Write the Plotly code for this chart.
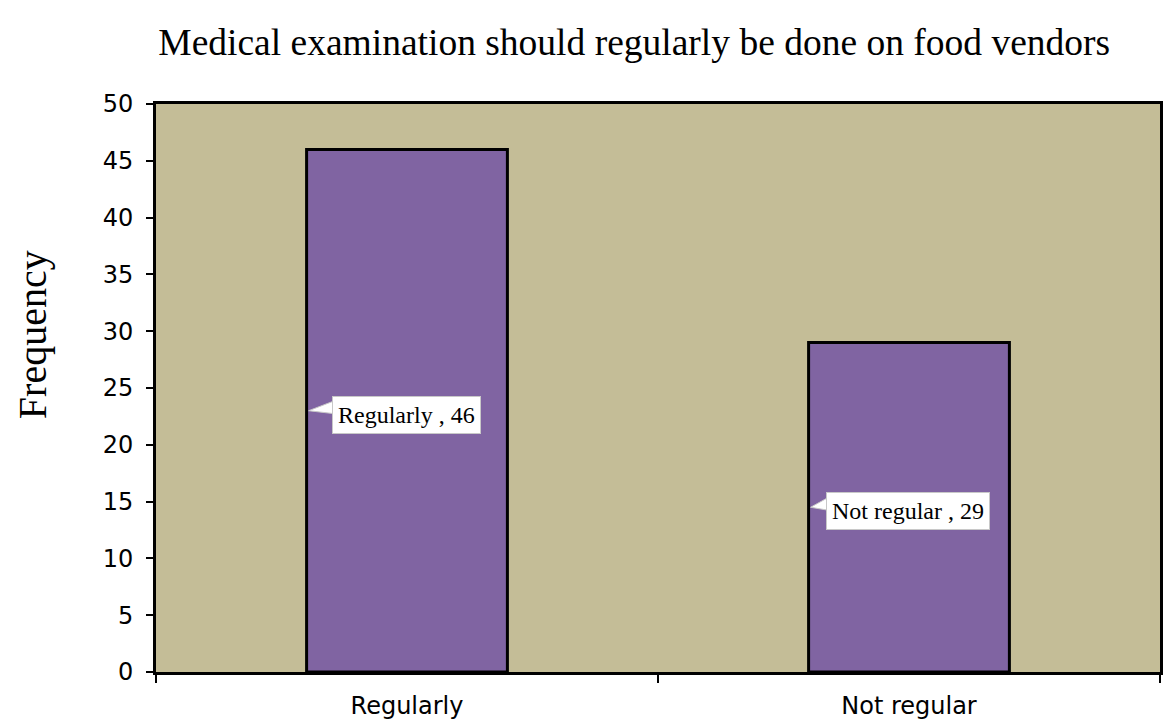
import plotly.graph_objects as go

categories = ["Regularly", "Not regular"]
frequency = [46, 29]
y_ticks = [0, 5, 10, 15, 20, 25, 30, 35, 40, 45, 50]

bar_width = 0.4

fig = go.Figure()

fig.add_trace(go.Bar(
    x=categories,
    y=frequency,
    width=bar_width,
    marker=dict(color="#8064A2", line=dict(color="black", width=3)),
    hoverinfo="x+y",
))

# callout labels pointing at the left edge of each bar, half way up
label_shift = [25, 17]
for i, (cat, val) in enumerate(zip(categories, frequency)):
    x_edge = i - bar_width / 2
    fig.add_annotation(
        x=x_edge, y=val / 2, xref="x", yref="y",
        text=f"{cat} , {val}",
        showarrow=False,
        xanchor="left", yanchor="middle",
        xshift=label_shift[i], yshift=-4,
        bgcolor="white", bordercolor="#c8c8c8", borderwidth=1, borderpad=5,
        font=dict(family="Liberation Serif", size=24, color="black"),
    )
    fig.add_shape(
        type="path", xref="x", yref="y",
        xsizemode="pixel", ysizemode="pixel",
        xanchor=x_edge, yanchor=val / 2,
        path=f"M 2 0 L {label_shift[i] + 3} 10 L {label_shift[i] + 3} -3 Z",
        fillcolor="white", line=dict(color="#c8c8c8", width=1),
    )

fig.update_layout(
    width=1164, height=716,
    margin=dict(l=148, r=12, t=96, b=52),
    paper_bgcolor="white",
    plot_bgcolor="#C4BD97",
    showlegend=False,
    title=dict(
        text="Medical examination should regularly be done on food vendors",
        x=0.538, xanchor="center", y=0.952, yanchor="middle",
        font=dict(family="Liberation Serif", size=37.5, color="black"),
    ),
    xaxis=dict(
        type="category",
        tickson="boundaries",
        ticks="outside", ticklen=8, tickwidth=2, tickcolor="black",
        ticklabelstandoff=10,
        showline=True, linecolor="black", linewidth=3, mirror=True,
        showgrid=False, automargin=False,
        tickfont=dict(family="DejaVu Sans", size=24, color="black"),
    ),
    yaxis=dict(
        range=[0, 50],
        tickvals=y_ticks,
        ticks="outside", ticklen=7, tickwidth=2, tickcolor="black",
        ticklabelstandoff=8,
        showline=True, linecolor="black", linewidth=3, mirror=True,
        showgrid=False, zeroline=False, automargin=False,
        tickfont=dict(family="DejaVu Sans", size=24, color="black"),
    ),
)

fig.add_annotation(
    text="Frequency", xref="paper", yref="paper",
    x=-0.1235, y=0.593, xanchor="center", yanchor="middle",
    textangle=-90, showarrow=False,
    font=dict(family="Liberation Serif", size=40, color="black"),
)

fig.write_html("out.html")
